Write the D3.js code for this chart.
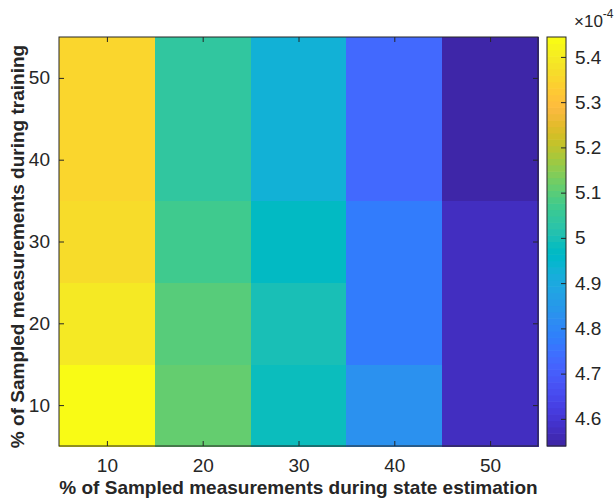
<!DOCTYPE html>
<html>
<head>
<meta charset="utf-8">
<script src="https://cdn.jsdelivr.net/npm/d3@7"></script>
<style>
  html, body { margin: 0; padding: 0; background: #fff; }
  svg { display: block; }
  text { font-family: "Liberation Sans", Arial, Helvetica, sans-serif; fill: #262626; }
</style>
</head>
<body>
<svg id="chart" width="616" height="502"></svg>
<script>
// Sampling percentages on each axis
const estimationPct = [10, 20, 30, 40, 50];
const trainingPct = [10, 20, 30, 40, 50];

// Error values, one array per training percentage (columns follow estimationPct)
const errTrain10 = [5.444e-4, 5.107e-4, 4.980e-4, 4.823e-4, 4.574e-4];
const errTrain20 = [5.394e-4, 5.095e-4, 4.999e-4, 4.767e-4, 4.573e-4];
const errTrain30 = [5.370e-4, 5.071e-4, 4.975e-4, 4.770e-4, 4.569e-4];
const errTrain40 = [5.351e-4, 5.035e-4, 4.930e-4, 4.731e-4, 4.540e-4];
const errTrain50 = [5.351e-4, 5.035e-4, 4.930e-4, 4.731e-4, 4.540e-4];

// Tick labels
const xTicks = [10, 20, 30, 40, 50];
const yTicks = [10, 20, 30, 40, 50];
const colorTicks = [4.6e-4, 4.7e-4, 4.8e-4, 4.9e-4, 5.0e-4, 5.1e-4, 5.2e-4, 5.3e-4, 5.4e-4];
const colorExponent = -4;

// parula, 64 entries
const parula = [
  [0.2422,0.1504,0.6603],[0.2504,0.1650,0.7076],[0.2578,0.1818,0.7511],[0.2647,0.1978,0.7952],
  [0.2706,0.2147,0.8364],[0.2751,0.2342,0.8710],[0.2783,0.2559,0.8991],[0.2803,0.2782,0.9221],
  [0.2813,0.3006,0.9414],[0.2810,0.3228,0.9579],[0.2795,0.3447,0.9717],[0.2760,0.3667,0.9829],
  [0.2699,0.3892,0.9906],[0.2602,0.4123,0.9952],[0.2440,0.4358,0.9988],[0.2206,0.4603,0.9973],
  [0.1963,0.4847,0.9892],[0.1834,0.5074,0.9798],[0.1786,0.5289,0.9682],[0.1764,0.5499,0.9520],
  [0.1687,0.5703,0.9359],[0.1540,0.5902,0.9218],[0.1460,0.6091,0.9079],[0.1380,0.6276,0.8973],
  [0.1248,0.6459,0.8883],[0.1113,0.6635,0.8763],[0.0952,0.6798,0.8598],[0.0689,0.6948,0.8394],
  [0.0297,0.7082,0.8163],[0.0036,0.7203,0.7917],[0.0067,0.7312,0.7660],[0.0433,0.7411,0.7394],
  [0.0964,0.7500,0.7120],[0.1408,0.7584,0.6842],[0.1717,0.7670,0.6554],[0.1938,0.7758,0.6251],
  [0.2161,0.7843,0.5923],[0.2470,0.7918,0.5567],[0.2906,0.7973,0.5188],[0.3406,0.8008,0.4789],
  [0.3909,0.8029,0.4354],[0.4456,0.8024,0.3909],[0.5044,0.7993,0.3480],[0.5616,0.7942,0.3045],
  [0.6174,0.7876,0.2612],[0.6720,0.7793,0.2227],[0.7242,0.7698,0.1910],[0.7738,0.7598,0.1646],
  [0.8203,0.7498,0.1535],[0.8634,0.7406,0.1596],[0.9035,0.7330,0.1774],[0.9393,0.7288,0.2100],
  [0.9728,0.7298,0.2394],[0.9956,0.7434,0.2371],[0.9970,0.7659,0.2199],[0.9952,0.7893,0.2028],
  [0.9892,0.8136,0.1885],[0.9786,0.8386,0.1766],[0.9676,0.8639,0.1643],[0.9610,0.8890,0.1537],
  [0.9597,0.9135,0.1423],[0.9628,0.9373,0.1265],[0.9691,0.9606,0.1064],[0.9769,0.9839,0.0805]
].map(c => d3.rgb(c[0] * 255, c[1] * 255, c[2] * 255).formatHex());

const rows = [errTrain10, errTrain20, errTrain30, errTrain40, errTrain50];
const cells = [];
rows.forEach((r, i) => r.forEach((v, j) => cells.push({ x: estimationPct[j], y: trainingPct[i], v })));

const svg = d3.select("#chart");
const axisColor = "#262626";
const plot = { left: 59, right: 538, top: 37, bottom: 446 };
const cbar = { left: 547, right: 566 };

const x = d3.scaleLinear().domain([5, 55]).range([plot.left, plot.right]);
const y = d3.scaleLinear().domain([5, 55]).range([plot.bottom, plot.top]);
const cLim = d3.extent(cells, d => d.v);
const color = d3.scaleQuantize().domain(cLim).range(parula);

// heatmap cells
svg.append("g").selectAll("rect").data(cells).join("rect")
  .attr("x", d => x(d.x - 5))
  .attr("y", d => y(d.y + 5))
  .attr("width", d => x(d.x + 5) - x(d.x - 5) + 0.5)
  .attr("height", d => y(d.y - 5) - y(d.y + 5) + 0.5)
  .attr("fill", d => color(d.v))
  .attr("shape-rendering", "crispEdges");

const fs = 19;
const tickLen = 5;

// bottom and left axes with inward ticks
const xAxis = svg.append("g").attr("transform", `translate(0,${plot.bottom})`)
  .call(d3.axisBottom(x).tickValues(xTicks).tickSize(-tickLen).tickPadding(13));
const yAxis = svg.append("g").attr("transform", `translate(${plot.left},0)`)
  .call(d3.axisLeft(y).tickValues(yTicks).tickSize(-tickLen).tickPadding(9));
// top and right mirrored ticks
const xTop = svg.append("g").attr("transform", `translate(0,${plot.top})`)
  .call(d3.axisTop(x).tickValues(xTicks).tickSize(-tickLen).tickFormat(""));
const yRight = svg.append("g").attr("transform", `translate(${plot.right},0)`)
  .call(d3.axisRight(y).tickValues(yTicks).tickSize(-tickLen).tickFormat(""));

[xAxis, yAxis, xTop, yRight].forEach(g => {
  g.select(".domain").remove();
  g.selectAll("line").attr("stroke", axisColor).attr("stroke-width", 1);
  g.selectAll("text").attr("font-size", fs).attr("fill", axisColor)
    .style("font-family", '"Liberation Sans", Arial, sans-serif');
});

// plot box
svg.append("rect")
  .attr("x", plot.left).attr("y", plot.top)
  .attr("width", plot.right - plot.left).attr("height", plot.bottom - plot.top)
  .attr("fill", "none").attr("stroke", axisColor).attr("stroke-width", 1);

// axis labels
svg.append("text")
  .attr("x", (plot.left + plot.right) / 2).attr("y", 494)
  .attr("text-anchor", "middle").attr("font-size", 19).attr("font-weight", "bold")
  .text("% of Sampled measurements during state estimation");
svg.append("text")
  .attr("transform", `translate(24,${(plot.top + plot.bottom) / 2 + 5}) rotate(-90)`)
  .attr("text-anchor", "middle").attr("font-size", 19).attr("font-weight", "bold")
  .text("% of Sampled measurements during training");

// colorbar
const cy = d3.scaleLinear().domain(cLim).range([plot.bottom, plot.top]);
const bandH = (plot.bottom - plot.top) / parula.length;
svg.append("g").selectAll("rect").data(parula).join("rect")
  .attr("x", cbar.left).attr("width", cbar.right - cbar.left)
  .attr("y", (d, i) => plot.bottom - (i + 1) * bandH)
  .attr("height", bandH + 0.6)
  .attr("fill", d => d);

const cAxis = svg.append("g").attr("transform", `translate(${cbar.right},0)`)
  .call(d3.axisRight(cy).tickValues(colorTicks).tickSize(-tickLen).tickPadding(9)
    .tickFormat(d => d3.format(".1~f")(d / Math.pow(10, colorExponent))));
cAxis.select(".domain").remove();
cAxis.selectAll("line").attr("stroke", axisColor);
cAxis.selectAll("text").attr("font-size", fs).attr("fill", axisColor)
  .style("font-family", '"Liberation Sans", Arial, sans-serif');

svg.append("rect")
  .attr("x", cbar.left).attr("y", plot.top)
  .attr("width", cbar.right - cbar.left).attr("height", plot.bottom - plot.top)
  .attr("fill", "none").attr("stroke", axisColor).attr("stroke-width", 1);

// exponent label above colorbar
const expLabel = svg.append("text").attr("x", 574).attr("y", 27).attr("font-size", 17);
expLabel.append("tspan").text("\u00d710");
expLabel.append("tspan").attr("dy", -9).attr("font-size", 12).text(String(colorExponent));
</script>
</body>
</html>
